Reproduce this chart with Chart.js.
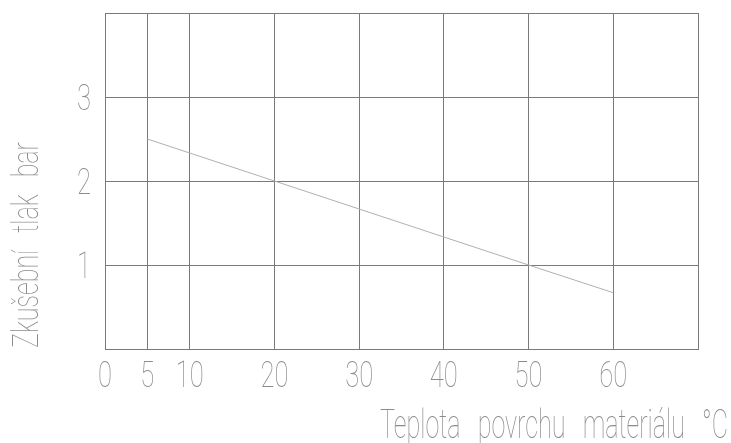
<!DOCTYPE html>
<html>
<head>
<meta charset="utf-8">
<script src="https://cdn.jsdelivr.net/npm/chart.js@4/dist/chart.umd.min.js"></script>
<style>
  html, body { margin: 0; padding: 0; background: #fff; }
  #wrap { width: 731px; height: 443px; }
</style>
</head>
<body>
<div id="wrap"><canvas id="chart" width="731" height="443"></canvas></div>
<script>
// values
const temps = [5, 20, 50, 60];
const pressures = [2.5, 2, 1, 0.67];

const xGrid = [0, 5, 10, 20, 30, 40, 50, 60, 70];
const yGrid = [0, 1, 2, 3, 4];
const xLabels = [0, 5, 10, 20, 30, 40, 50, 60];
const yLabels = [1, 2, 3];

const xTitle = "Teplota povrchu materiálu °C";
const yTitle = "Zkušební tlak bar";

const gridColor = "#7a7a7a";
const lineColor = "#b0b0b0";
const textColor = "#8c8c8c";
const fontName = "Roboto";

// draws text squeezed sideways, like the thin plotter font of the original
function stretchedText(ctx, text, px, py, font, width, align, angle, gap) {
  ctx.save();
  ctx.font = font;
  ctx.wordSpacing = (gap || 0) + "px";
  const sx = width / ctx.measureText(text).width;
  ctx.translate(px, py);
  if (angle) ctx.rotate(angle);
  ctx.scale(sx, 1);
  ctx.textAlign = align;
  ctx.textBaseline = "alphabetic";
  ctx.fillText(text, 0, 0);
  ctx.restore();
}

const cadText = {
  id: "cadText",
  afterDraw(chart) {
    const ctx = chart.ctx;
    const x = chart.scales.x;
    const y = chart.scales.y;
    ctx.save();
    ctx.fillStyle = textColor;
    const tickFont = "100 37px " + fontName;
    ctx.font = tickFont;
    const digitScale = 14 / ctx.measureText("0").width;
    xLabels.forEach(function (v) {
      const s = String(v);
      ctx.font = tickFont;
      const w = ctx.measureText(s).width * digitScale;
      stretchedText(ctx, s, x.getPixelForValue(v), 387, tickFont, w, "center");
    });
    yLabels.forEach(function (v) {
      const s = String(v);
      ctx.font = tickFont;
      const w = ctx.measureText(s).width * digitScale;
      stretchedText(ctx, s, 84, y.getPixelForValue(v) + 13, tickFont, w, "center");
    });
    stretchedText(ctx, xTitle, 728, 438, "100 41px " + fontName, 348, "right", 0, 18);
    stretchedText(ctx, yTitle, 38, 348, "100 36px " + fontName, 206, "left", -Math.PI / 2, 16);
    ctx.restore();
  }
};

new Chart(document.getElementById("chart"), {
  type: "line",
  data: {
    datasets: [
      {
        data: temps.map(function (t, i) { return { x: t, y: pressures[i] }; }),
        borderColor: lineColor,
        borderWidth: 1,
        pointRadius: 0,
        fill: false,
        tension: 0,
      },
    ],
  },
  options: {
    responsive: false,
    animation: false,
    layout: { padding: { left: 105, top: 13, right: 33, bottom: 94 } },
    plugins: { legend: { display: false }, tooltip: { enabled: false } },
    scales: {
      x: {
        type: "linear",
        min: 0,
        max: 70,
        afterBuildTicks: function (axis) {
          axis.ticks = xGrid.map(function (v) { return { value: v }; });
        },
        ticks: { display: false },
        grid: { color: gridColor, lineWidth: 1, drawTicks: false },
        border: { color: gridColor, width: 1 },
      },
      y: {
        type: "linear",
        min: 0,
        max: 4,
        afterBuildTicks: function (axis) {
          axis.ticks = yGrid.map(function (v) { return { value: v }; });
        },
        ticks: { display: false },
        grid: { color: gridColor, lineWidth: 1, drawTicks: false },
        border: { color: gridColor, width: 1 },
      },
    },
  },
  plugins: [cadText],
});
</script>
</body>
</html>
